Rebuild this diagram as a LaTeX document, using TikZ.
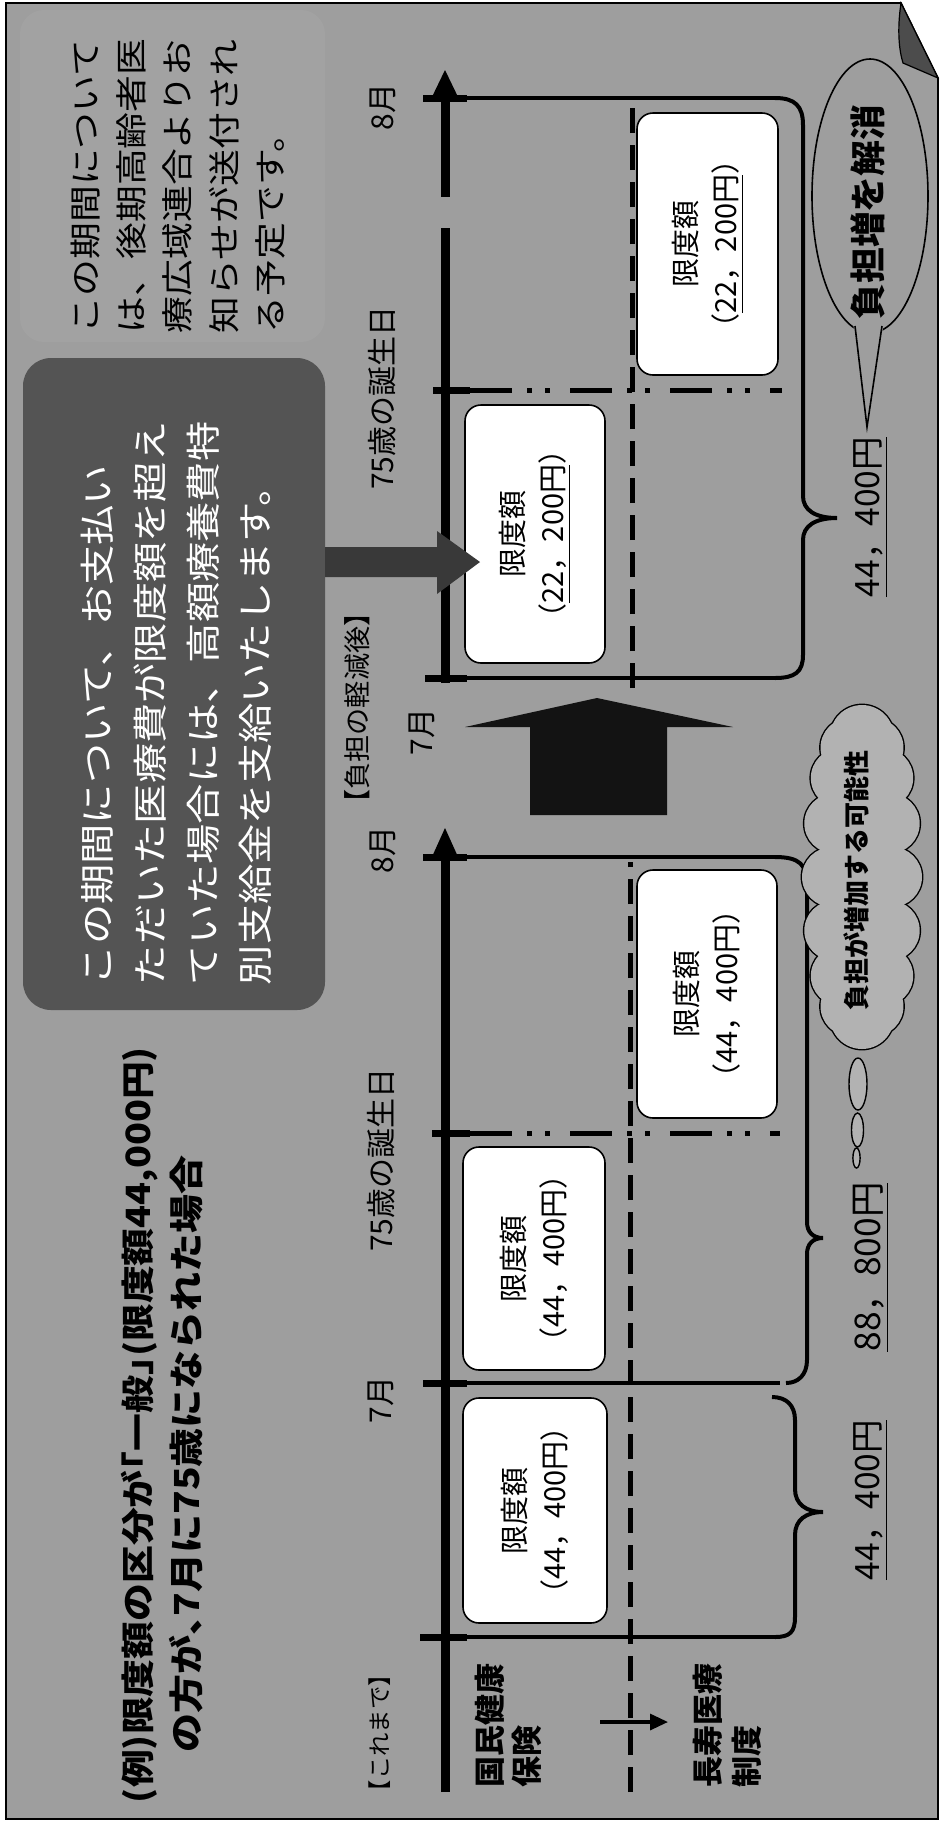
\documentclass[tikz,border=0pt]{standalone}
\usepackage{fontspec}
\usepackage{graphicx}
\usetikzlibrary{arrows.meta}
\newfontfamily\jp{Noto Sans CJK JP}
\newfontfamily\jpw[FakeStretch=1.15]{Noto Sans CJK JP}
\newfontfamily\jph[FakeStretch=1.13,RawFeature=+halt]{Noto Sans CJK JP}
\definecolor{bg}{gray}{0.62}
\definecolor{lbox}{gray}{0.635}
\definecolor{dbox}{gray}{0.33}
\definecolor{cloudc}{gray}{0.70}
\definecolor{fold}{gray}{0.30}
\newcommand\fs[1]{\fontsize{#1pt}{#1pt}\selectfont}
\newcommand\rs[2]{\resizebox{#1pt}{!}{#2}}
\tikzset{
 rt/.style={rotate=90, inner sep=0pt, outer sep=0pt},
 axisline/.style={line width=4.5pt},
 tickline/.style={line width=3.5pt},
 thinline/.style={line width=2pt},
 braceline/.style={line width=2pt},
 dashv/.style={line width=2.5pt, dash pattern=on 12.5pt off 6pt},
 dashdd/.style={line width=2.5pt, dash pattern=on 21pt off 7.5pt on 2.5pt off 6.5pt on 2.5pt off 10pt},
 limbox/.style={rt, draw=black, line width=0.8pt, fill=white, rounded corners=8pt, align=center, font=\jp\fontsize{14.5pt}{20pt}\selectfont},
 lab/.style={rt, font=\jp\fs{15}},
}
\begin{document}
\begin{tikzpicture}[x=0.5pt,y=-0.5pt]
\useasboundingbox (0,0) rectangle (940,1822);
\fill[white] (0,0) rectangle (940,1822);
% page
\draw[line width=0.8pt, fill=bg] (6,3) -- (901,3) -- (938,78) -- (938,1819) -- (6,1819) -- cycle;
\draw[line width=0.6pt, fill=fold] (901,3) .. controls (897,30) and (899,50) .. (903,63) -- (938,78) -- cycle;
% top light box and dark box
\node[fill=lbox, rounded corners=12pt, minimum width=152.5pt, minimum height=166pt, inner sep=0pt] (lightbox) at (172.5,176) {};
\node[fill=dbox, rounded corners=14pt, minimum width=151pt, minimum height=326pt, inner sep=0pt] (darkbox) at (174,684) {};

% ---------- first timeline ----------
\coordinate (a1s) at (445,1792);
\coordinate (a1e) at (445,857);
\draw[axisline] (a1s) -- (a1e);
\fill (431,859) -- (459,859) -- (445,828) -- cycle;
\draw[tickline] (420,1637) -- (467,1637);
\draw[tickline] (423,1383) -- (467,1383);
\draw[tickline] (432,1133) -- (470,1133);
\draw[tickline] (423,857) -- (467,857);
\draw[thinline] (445,1637) -- (776,1637);
\draw[thinline] (445,1383) -- (780,1383);
\draw[thinline] (445,857) -- (776,857);
\draw[dashdd] (470,1133) -- (780,1133);
\draw[dashv] (630,1792) -- (630,862);
% braces
\draw[braceline] (775,1637) .. controls (790,1637) and (795,1632) .. (795,1617) -- (795,1535)
  .. controls (795,1520) and (806,1512) .. (823,1512) .. controls (806,1512) and (795,1504) .. (795,1489)
  -- (795,1420) .. controls (795,1405) and (786,1397) .. (772,1397);
\draw[braceline] (775,857) .. controls (800,857) and (807,865) .. (807,885) -- (807,1222)
  .. controls (807,1232) and (813,1238) .. (823,1238) .. controls (813,1238) and (807,1244) .. (807,1254)
  -- (807,1360) .. controls (807,1375) and (798,1383) .. (786,1383);

% ---------- second timeline ----------
\draw[axisline] (445,683) -- (445,97);
\fill (431,99) -- (459,99) -- (445,70) -- cycle;
\draw[tickline] (425,678) -- (467,678);
\draw[tickline] (433,390) -- (470,390);
\draw[tickline] (423,98) -- (467,98);
\draw[thinline] (445,678) -- (776,678);
\draw[thinline] (445,98) -- (776,98);
\draw[dashdd] (470,390) -- (782,390);
\draw[dashv] (632,688) -- (632,100);
\draw[braceline] (775,98) .. controls (795,98) and (803,106) .. (803,125) -- (803,496)
  .. controls (803,510) and (815,518) .. (837,518) .. controls (815,518) and (803,526) .. (803,540)
  -- (803,655) .. controls (803,672) and (795,678) .. (775,678);

% faded arrow (barely visible: it only interrupts the axis)
\fill[bg] (420,197) rectangle (470,228);

% boxes
\node[limbox, minimum width=112.5pt, minimum height=72pt] (b1) at (535,1510.5) {限度額\\（44，400円）};
\node[limbox, minimum width=111.5pt, minimum height=71pt] (b2) at (534,1258.5) {限度額\\（44，400円）};
\node[limbox, minimum width=124pt, minimum height=70pt] (b3) at (707,994) {限度額\\（44，400円）};
\node[limbox, minimum width=129pt, minimum height=70pt] (b4) at (535,534) {限度額\\（\underline{22，200円}）};
\node[limbox, minimum width=131pt, minimum height=70.5pt] (b5) at (707.5,244) {限度額\\（\underline{22，200円}）};

% big up arrow
\fill[gray!15!black] (530,815) -- (530,727) -- (465,727) -- (597,698) -- (733,727) -- (667,727) -- (667,815) -- cycle;
% arrow from dark box
\fill[gray!45!black] (325,547) -- (437,547) -- (437,531) -- (480,562) -- (437,594) -- (437,577) -- (325,577) -- cycle;

% small arrow
\coordinate (sa1) at (600,1722);
\coordinate (sa2) at (668,1722);
\draw[line width=1.6pt, -{Triangle[length=9pt,width=8pt]}] (sa1) -- (sa2);

% callout ellipse
\draw[line width=0.8pt, fill=bg] (870,196) ellipse [x radius=29pt, y radius=68.5pt];
\fill[bg] (853,322) -- (867,427) -- (884,322) -- cycle;
\draw[line width=0.8pt] (855,326) -- (867,427) -- (882,326);
\node[rt] (callout) at (868,212) {\rs{107.5}{\jp\bfseries\fs{16}負担増を解消}};

% cloud (union of puffs)
\foreach \a/\r in {0/15,22.5/15,45/15,67.5/15,90/16,112.5/15,135/15,157.5/15,180/15,202.5/15,225/15,247.5/15,270/16,292.5/15,315/15,337.5/15}
  \draw[line width=1.4pt, fill=cloudc] ({862+30*cos(\a)},{877+140*sin(\a)}) circle [radius=\r pt];
\foreach \a/\r in {0/15,22.5/15,45/15,67.5/15,90/16,112.5/15,135/15,157.5/15,180/15,202.5/15,225/15,247.5/15,270/16,292.5/15,315/15,337.5/15}
  \fill[cloudc] ({862+30*cos(\a)},{877+140*sin(\a)}) circle [radius=\r pt];
\fill[cloudc] (862,877) ellipse [x radius=16pt, y radius=72pt];
\draw[line width=0.7pt, fill=cloudc] (858,1084) ellipse [x radius=4.5pt, y radius=13pt];
\draw[line width=0.7pt, fill=cloudc] (857.5,1130) ellipse [x radius=3pt, y radius=8.5pt];
\draw[line width=0.7pt, fill=cloudc] (856.5,1158) ellipse [x radius=1.8pt, y radius=5pt];
\node[rt] (cltext) at (856,880) {\rs{130}{\jp\bfseries\fs{13}負担が増加する可能性}};

% amounts
\node[rt] (m1) at (871,1500) {\rs{80}{\jp\fs{14}\underline{44，400円}}};
\node[rt] (m2) at (871,1267) {\rs{84.5}{\jp\fs{14}\underline{88，800円}}};
\node[rt] (m3) at (871,517) {\rs{80}{\jp\fs{14}\underline{44，400円}}};

% title
\node[rt, anchor=west] (t1) at (140,1803) {\rs{378}{\jph\bfseries\fs{18}(例)限度額の区分が「一般」(限度額44,000円)}};
\node[rt, anchor=west] (t2) at (186,1752) {\rs{298.5}{\jph\bfseries\fs{18}の方が、7月に75歳になられた場合}};

% timeline labels
\node[rt] (l1) at (380,1733) {\rs{70}{\jp\fs{15}【これまで】}};
\node[lab] (l2) at (381,1400) {7月};
\node[lab] (l3) at (381,1160) {75歳の誕生日};
\node[lab] (l4) at (383,850) {8月};
\node[rt] (l5) at (357,708) {\rs{108.5}{\jp\fs{15}【負担の軽減後】}};
\node[lab] (l6) at (422,732) {7月};
\node[lab] (l7) at (382,398) {75歳の誕生日};
\node[lab] (l8) at (383,107) {8月};

% insurance labels
\node[rt, anchor=west, font=\jp\bfseries\fs{15.5}] (k1) at (490,1787) {国民健康};
\node[rt, anchor=west, font=\jp\bfseries\fs{15.5}] (k2) at (527,1787) {保険};
\node[rt, anchor=west, font=\jp\bfseries\fs{15.5}] (k3) at (708,1787) {長寿医療};
\node[rt, anchor=west, font=\jp\bfseries\fs{15.5}] (k4) at (747,1787) {制度};

% top box text
\begin{scope}[every node/.style={rt, anchor=west, font=\jpw\fs{16}}]
\node (p1) at (86,333) {この期間について};
\node (p2) at (131,333) {は、後期高齢者医};
\node (p3) at (177,333) {療広域連合よりお};
\node (p4) at (224,333) {知らせが送付され};
\node (p5) at (270,333) {る予定です。};
\end{scope}
% dark box text
\begin{scope}[every node/.style={rt, anchor=west, font=\jpw\fs{17.5}, text=white}]
\node (d1) at (97,985) {この期間について、お支払い};
\node (d2) at (150,985) {ただいた医療費が限度額を超え};
\node (d3) at (203,985) {ていた場合には、高額療養費特};
\node (d4) at (255,985) {別支給金を支給いたします。};
\end{scope}
\end{tikzpicture}
\end{document}
